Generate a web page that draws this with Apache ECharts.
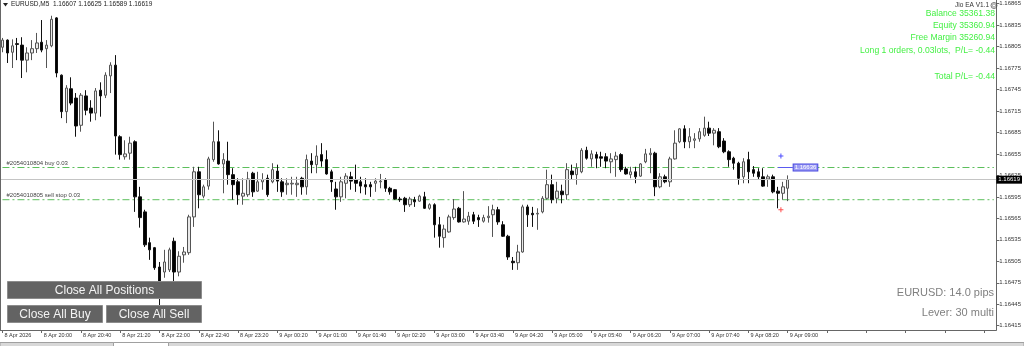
<!DOCTYPE html>
<html><head><meta charset="utf-8">
<script src="https://cdn.jsdelivr.net/npm/echarts@6/dist/echarts.min.js"></script>
<style>html,body{margin:0;padding:0;background:#fff;overflow:hidden}#c{width:1024px;height:346px}</style>
</head><body><div id="c"></div><script>
const symbolName = 'EURUSD,M5';
const firstLabel = '8 Apr 2026';
const categories = [
'8 Apr 19:20','8 Apr 19:25','8 Apr 19:30','8 Apr 19:35','8 Apr 19:40','8 Apr 19:45','8 Apr 19:50','8 Apr 19:55',
'8 Apr 20:00','8 Apr 20:05','8 Apr 20:10','8 Apr 20:15','8 Apr 20:20','8 Apr 20:25','8 Apr 20:30','8 Apr 20:35','8 Apr 20:40','8 Apr 20:45','8 Apr 20:50','8 Apr 20:55',
'8 Apr 21:00','8 Apr 21:05','8 Apr 21:10','8 Apr 21:15','8 Apr 21:20','8 Apr 21:25','8 Apr 21:30','8 Apr 21:35','8 Apr 21:40','8 Apr 21:45','8 Apr 21:50','8 Apr 21:55',
'8 Apr 22:00','8 Apr 22:05','8 Apr 22:10','8 Apr 22:15','8 Apr 22:20','8 Apr 22:25','8 Apr 22:30','8 Apr 22:35','8 Apr 22:40','8 Apr 22:45','8 Apr 22:50','8 Apr 22:55',
'8 Apr 23:00','8 Apr 23:05','8 Apr 23:10','8 Apr 23:15','8 Apr 23:20','8 Apr 23:25','8 Apr 23:30','8 Apr 23:35','8 Apr 23:40','8 Apr 23:45','8 Apr 23:50','8 Apr 23:55',
'9 Apr 00:20','9 Apr 00:25','9 Apr 00:30','9 Apr 00:35','9 Apr 00:40','9 Apr 00:45','9 Apr 00:50','9 Apr 00:55',
'9 Apr 01:00','9 Apr 01:05','9 Apr 01:10','9 Apr 01:15','9 Apr 01:20','9 Apr 01:25','9 Apr 01:30','9 Apr 01:35','9 Apr 01:40','9 Apr 01:45','9 Apr 01:50','9 Apr 01:55',
'9 Apr 02:00','9 Apr 02:05','9 Apr 02:10','9 Apr 02:15','9 Apr 02:20','9 Apr 02:25','9 Apr 02:30','9 Apr 02:35','9 Apr 02:40','9 Apr 02:45','9 Apr 02:50','9 Apr 02:55',
'9 Apr 03:00','9 Apr 03:05','9 Apr 03:10','9 Apr 03:15','9 Apr 03:20','9 Apr 03:25','9 Apr 03:30','9 Apr 03:35','9 Apr 03:40','9 Apr 03:45','9 Apr 03:50','9 Apr 03:55',
'9 Apr 04:00','9 Apr 04:05','9 Apr 04:10','9 Apr 04:15','9 Apr 04:20','9 Apr 04:25','9 Apr 04:30','9 Apr 04:35','9 Apr 04:40','9 Apr 04:45','9 Apr 04:50','9 Apr 04:55',
'9 Apr 05:00','9 Apr 05:05','9 Apr 05:10','9 Apr 05:15','9 Apr 05:20','9 Apr 05:25','9 Apr 05:30','9 Apr 05:35','9 Apr 05:40','9 Apr 05:45','9 Apr 05:50','9 Apr 05:55',
'9 Apr 06:00','9 Apr 06:05','9 Apr 06:10','9 Apr 06:15','9 Apr 06:20','9 Apr 06:25','9 Apr 06:30','9 Apr 06:35','9 Apr 06:40','9 Apr 06:45','9 Apr 06:50','9 Apr 06:55',
'9 Apr 07:00','9 Apr 07:05','9 Apr 07:10','9 Apr 07:15','9 Apr 07:20','9 Apr 07:25','9 Apr 07:30','9 Apr 07:35','9 Apr 07:40','9 Apr 07:45','9 Apr 07:50','9 Apr 07:55',
'9 Apr 08:00','9 Apr 08:05','9 Apr 08:10','9 Apr 08:15','9 Apr 08:20','9 Apr 08:25','9 Apr 08:30','9 Apr 08:35','9 Apr 08:40','9 Apr 08:45','9 Apr 08:50','9 Apr 08:55',
'9 Apr 09:00'];

const opens = [1.16804,1.16814,1.16797,1.16809,1.16807,1.16786,1.16796,1.16802,1.16811,1.16802,1.16806,1.16845,1.16765,1.16714,1.16746,1.16733,1.16695,1.16736,1.16719,1.16712,
1.16744,1.16737,1.16764,1.16779,1.16679,1.16651,1.16656,1.16672,1.16595,1.16574,1.16531,1.16524,1.16497,1.16490,1.16493,1.16533,1.16490,1.16514,1.16517,1.16567,
1.16630,1.16596,1.16610,1.16647,1.16672,1.16641,1.16645,1.16626,1.16616,1.16596,1.16598,1.16628,1.16603,1.16616,1.16621,1.16616,1.16631,1.16616,1.16612,1.16613,
1.16612,1.16621,1.16609,1.16645,1.16640,1.16654,1.16647,1.16630,1.16606,1.16595,1.16614,1.16623,1.16619,1.16616,1.16612,1.16612,1.16614,1.16616,1.16619,1.16607,
1.16605,1.16592,1.16593,1.16584,1.16591,1.16589,1.16595,1.16579,1.16584,1.16556,1.16538,1.16546,1.16566,1.16579,1.16560,1.16561,1.16570,1.16566,1.16561,1.16566,
1.16570,1.16577,1.16556,1.16540,1.16505,1.16503,1.16518,1.16581,1.16572,1.16571,1.16574,1.16593,1.16612,1.16593,1.16603,1.16598,1.16631,1.16626,1.16630,1.16660,
1.16648,1.16654,1.16651,1.16651,1.16644,1.16647,1.16654,1.16634,1.16626,1.16630,1.16624,1.16644,1.16654,1.16656,1.16609,1.16623,1.16616,1.16648,1.16672,1.16690,
1.16672,1.16674,1.16676,1.16681,1.16691,1.16684,1.16686,1.16673,1.16658,1.16649,1.16642,1.16623,1.16647,1.16633,1.16630,1.16623,1.16620,1.16623,1.16603,1.16600,
1.16607];
const closes = [1.16814,1.16796,1.16806,1.16808,1.16786,1.16796,1.16802,1.16810,1.16800,1.16807,1.16843,1.16768,1.16714,1.16747,1.16726,1.16694,1.16737,1.16716,1.16712,1.16743,
1.16736,1.16765,1.16779,1.16680,1.16654,1.16655,1.16670,1.16595,1.16566,1.16528,1.16521,1.16496,1.16472,1.16504,1.16521,1.16490,1.16512,1.16518,1.16567,1.16630,
1.16598,1.16609,1.16648,1.16672,1.16641,1.16647,1.16626,1.16612,1.16598,1.16600,1.16620,1.16602,1.16616,1.16619,1.16598,1.16633,1.16617,1.16602,1.16614,1.16614,
1.16614,1.16609,1.16647,1.16640,1.16652,1.16645,1.16627,1.16616,1.16595,1.16616,1.16624,1.16617,1.16614,1.16610,1.16609,1.16609,1.16617,1.16617,1.16607,1.16602,
1.16592,1.16591,1.16584,1.16592,1.16588,1.16596,1.16579,1.16584,1.16556,1.16540,1.16550,1.16567,1.16578,1.16560,1.16564,1.16568,1.16561,1.16563,1.16566,1.16568,
1.16577,1.16560,1.16540,1.16511,1.16503,1.16518,1.16581,1.16570,1.16570,1.16572,1.16593,1.16612,1.16591,1.16603,1.16598,1.16633,1.16626,1.16635,1.16660,1.16649,
1.16655,1.16649,1.16649,1.16645,1.16648,1.16652,1.16633,1.16627,1.16630,1.16623,1.16641,1.16655,1.16656,1.16609,1.16623,1.16616,1.16648,1.16670,1.16690,1.16672,
1.16679,1.16676,1.16686,1.16691,1.16684,1.16688,1.16665,1.16658,1.16647,1.16642,1.16621,1.16644,1.16630,1.16628,1.16623,1.16610,1.16623,1.16602,1.16600,1.16609,
1.16619];
const lows = [1.16797,1.16782,1.16775,1.16786,1.16761,1.16769,1.16786,1.16796,1.16797,1.16775,1.16804,1.16762,1.16705,1.16698,1.16723,1.16679,1.16686,1.16709,1.16700,1.16702,
1.16707,1.16733,1.16740,1.16654,1.16647,1.16647,1.16647,1.16574,1.16552,1.16525,1.16507,1.16493,1.16441,1.16482,1.16490,1.16477,1.16484,1.16503,1.16514,1.16553,
1.16579,1.16593,1.16605,1.16644,1.16640,1.16600,1.16612,1.16591,1.16584,1.16584,1.16595,1.16595,1.16602,1.16605,1.16595,1.16614,1.16602,1.16595,1.16598,1.16598,
1.16595,1.16598,1.16598,1.16628,1.16628,1.16637,1.16626,1.16602,1.16577,1.16588,1.16593,1.16605,1.16602,1.16600,1.16598,1.16595,1.16602,1.16607,1.16602,1.16598,
1.16591,1.16588,1.16574,1.16581,1.16581,1.16588,1.16578,1.16577,1.16538,1.16524,1.16524,1.16545,1.16563,1.16559,1.16559,1.16556,1.16557,1.16553,1.16559,1.16559,
1.16539,1.16556,1.16539,1.16507,1.16493,1.16493,1.16517,1.16553,1.16553,1.16549,1.16572,1.16591,1.16586,1.16586,1.16586,1.16591,1.16619,1.16612,1.16628,1.16647,
1.16637,1.16635,1.16637,1.16635,1.16628,1.16623,1.16630,1.16626,1.16621,1.16614,1.16623,1.16642,1.16628,1.16596,1.16607,1.16614,1.16609,1.16647,1.16670,1.16663,
1.16663,1.16663,1.16672,1.16679,1.16680,1.16667,1.16663,1.16656,1.16637,1.16633,1.16612,1.16614,1.16614,1.16623,1.16619,1.16609,1.16609,1.16600,1.16579,1.16591,
1.16589];
const highs = [1.16817,1.16815,1.16815,1.16817,1.16818,1.16804,1.16814,1.16824,1.16842,1.16814,1.16848,1.16846,1.16766,1.16751,1.16762,1.16740,1.16740,1.16744,1.16730,1.16747,
1.16755,1.16769,1.16783,1.16793,1.16681,1.16674,1.16679,1.16674,1.16609,1.16577,1.16538,1.16525,1.16504,1.16521,1.16524,1.16538,1.16519,1.16525,1.16570,1.16637,
1.16637,1.16612,1.16651,1.16700,1.16688,1.16656,1.16672,1.16635,1.16621,1.16621,1.16630,1.16630,1.16630,1.16628,1.16626,1.16642,1.16640,1.16621,1.16621,1.16623,
1.16623,1.16623,1.16654,1.16656,1.16667,1.16670,1.16660,1.16633,1.16616,1.16623,1.16628,1.16630,1.16640,1.16623,1.16621,1.16616,1.16621,1.16627,1.16621,1.16609,
1.16606,1.16595,1.16595,1.16595,1.16595,1.16598,1.16602,1.16586,1.16586,1.16567,1.16556,1.16570,1.16592,1.16581,1.16603,1.16574,1.16574,1.16570,1.16570,1.16582,
1.16584,1.16581,1.16561,1.16542,1.16511,1.16528,1.16584,1.16584,1.16581,1.16579,1.16596,1.16633,1.16626,1.16616,1.16612,1.16642,1.16640,1.16642,1.16663,1.16665,
1.16660,1.16658,1.16658,1.16656,1.16656,1.16658,1.16656,1.16637,1.16637,1.16637,1.16642,1.16662,1.16663,1.16658,1.16628,1.16626,1.16651,1.16688,1.16691,1.16695,
1.16691,1.16684,1.16691,1.16707,1.16700,1.16691,1.16691,1.16677,1.16660,1.16651,1.16644,1.16649,1.16658,1.16638,1.16635,1.16635,1.16626,1.16626,1.16609,1.16616,
1.16625];

const priceTicks = [1.16415,1.16445,1.16475,1.16505,1.16535,1.16565,1.16595,1.16625,1.16655,1.16685,1.16715,1.16745,1.16775,1.16805,1.16835,1.16865];
const yMin = 1.16409, yMax = 1.16870;
const bidPrice = 1.16619;
const buyLevel = 1.16636;
const sellStopLevel = 1.16591;
const buyArrowPrice = 1.16652;
const sellArrowPrice = 1.16577;
const buyLabel = '#2054010804 buy 0.03';
const sellStopLabel = '#2054010805 sell stop 0.03';
const eaName = 'Jio EA V1.1';
const infoLines = ['Balance 35361.38','Equity 35360.94','Free Margin 35260.94','Long 1 orders, 0.03lots,  P/L= -0.44','','Total P/L= -0.44'];
const spreadText = 'EURUSD: 14.0 pips';
const leverText = 'Lever: 30 multi';
const buttonLabels = ['Close All Positions','Close All Buy','Close All Sell'];

const ff = '"Liberation Sans", Arial, sans-serif';
const last = opens.length - 1;
const PAD = 203;
const axisCats = categories.concat(new Array(PAD - categories.length).fill(''));
const candleData = opens.map((o, i) => [o, closes[i], lows[i], highs[i]]);
const headerText = symbolName + '  ' + [opens[last], highs[last], lows[last], closes[last]].map(v => v.toFixed(5)).join(' ');

const graphics = [
  {type:'line', shape:{x1:0.5,y1:0,x2:0.5,y2:330}, style:{stroke:'#666',lineWidth:1}, z:50},
  {type:'polygon', shape:{points:[[3,3],[8,3],[5.5,6.5]]}, style:{fill:'#222'}, z:50},
  {type:'text', style:{x:11,y:4.5,text:headerText,font:'6.5px '+ff,fill:'#222',verticalAlign:'middle',textVerticalAlign:'middle'}, z:50},
  {type:'text', style:{x:989,y:5.5,text:eaName,font:'6.5px '+ff,fill:'#333',align:'right',textAlign:'right',verticalAlign:'middle',textVerticalAlign:'middle'}, z:50},
  {type:'circle', shape:{cx:994,cy:5.5,r:3}, style:{fill:'none',stroke:'#555',lineWidth:0.8}, z:50},
  {type:'circle', shape:{cx:994,cy:5.5,r:1.6}, style:{fill:'none',stroke:'#555',lineWidth:0.6}, z:50},
  {type:'text', style:{x:994,y:293,text:spreadText,font:'11px '+ff,fill:'#808080',align:'right',textAlign:'right',verticalAlign:'middle',textVerticalAlign:'middle'}, z:50},
  {type:'text', style:{x:994,y:313,text:leverText,font:'11px '+ff,fill:'#808080',align:'right',textAlign:'right',verticalAlign:'middle',textVerticalAlign:'middle'}, z:50},
  {type:'rect', shape:{x:0,y:342.5,width:1024,height:4}, style:{fill:'#d8d8d8',stroke:'#a0a0a0',lineWidth:1}, z:50},
  {type:'rect', shape:{x:113.5,y:342.5,width:55,height:4}, style:{fill:'#ffffff',stroke:'#a0a0a0',lineWidth:1}, z:51}
];
const infoY = [14, 26, 38, 51, 64, 77];
infoLines.forEach((t, i) => {
  if (!t) return;
  graphics.push({type:'text', style:{x:995,y:infoY[i],text:t,font:'8.6px '+ff,fill:'#45f045',align:'right',textAlign:'right',verticalAlign:'middle',textVerticalAlign:'middle'}, z:50});
});
const btns = [[7.5,281.5,194,17],[7.5,305.5,95,17],[106.5,305.5,95,17]];
btns.forEach((b, i) => {
  graphics.push({type:'rect', shape:{x:b[0],y:b[1],width:b[2],height:b[3]}, style:{fill:'#636363',stroke:'#8c8c8c',lineWidth:1}, z:60});
  graphics.push({type:'text', style:{x:b[0]+b[2]/2,y:b[1]+b[3]/2+0.5,text:buttonLabels[i],font:'12px '+ff,fill:'#f4f4f4',align:'center',textAlign:'center',verticalAlign:'middle',textVerticalAlign:'middle'}, z:61});
});

const plusPath = 'path://M2,0h1v2h2v1h-2v2h-1v-2h-2v-1h2z';
const blueLabel = {show:true, position:'end', formatter:buyLevel.toFixed(5), backgroundColor:'#9c9cf4', borderColor:'#4a4ae0', borderWidth:1, color:'#fff', fontSize:6, fontFamily:ff, padding:[0,1,0,1], distance:1};
const orderLineLabel = {show:true, position:[4,-7.5], color:'#444', fontSize:6, fontFamily:ff};

function orderLine(level, text) {
  return {
    type:'line', silent:true, z:2, symbol:'circle', symbolSize:0, showSymbol:true, animation:false,
    lineStyle:{color:'#5cbf5c', width:1, type:[7,3,2,3]},
    itemStyle:{color:'#5cbf5c'},
    label:{show:false},
    data:[{value:[0, level], label:Object.assign({formatter:text}, orderLineLabel)}, [PAD - 1, level]]
  };
}

const chart = echarts.init(document.getElementById('c'), null, {renderer:'canvas'});
chart.setOption({
  animation:false,
  backgroundColor:'#ffffff',
  grid:{left:-1, top:0, width:1000, height:330, containLabel:false, show:false},
  xAxis:{
    type:'category', data:axisCats, boundaryGap:true,
    axisLine:{show:true, lineStyle:{color:'#666', width:1}},
    axisTick:{show:true, interval:7, alignWithLabel:true, length:3, lineStyle:{color:'#666'}},
    axisLabel:{interval:7, align:'left', fontSize:5.5, fontFamily:ff, color:'#333', margin:2, padding:[0,0,0,2],
      formatter:(v, i) => i === 0 ? firstLabel : v},
    splitLine:{show:false}
  },
  yAxis:{
    type:'value', position:'right', min:yMin, max:yMax, scale:true,
    splitLine:{show:false},
    axisLine:{show:true, lineStyle:{color:'#666', width:1}},
    axisTick:{show:true, length:3, lineStyle:{color:'#666'}, customValues:priceTicks},
    axisLabel:{customValues:priceTicks, formatter:v => Number(v).toFixed(5), fontSize:6, fontFamily:ff, color:'#333', margin:3}
  },
  series:[
    {
      type:'scatter', data:[], silent:true, z:1,
      markLine:{
        silent:true, symbol:['none','none'], animation:false, precision:5,
        lineStyle:{color:'#c4c4c4', type:'solid', width:1},
        data:[{yAxis:bidPrice, label:{show:true, position:'end', formatter:bidPrice.toFixed(5), backgroundColor:'#000', color:'#fff', fontSize:6, fontFamily:ff, padding:[1,2,1,2], distance:0}}]
      }
    },
    orderLine(buyLevel, buyLabel),
    orderLine(sellStopLevel, sellStopLabel),
    {
      type:'candlestick', data:candleData, barWidth:3, z:3,
      itemStyle:{color:'#e9e9e9', color0:'#000000', borderColor:'#555555', borderColor0:'#111111', borderWidth:1}
    },
    {type:'scatter', data:[[158, buyArrowPrice]], symbol:plusPath, symbolSize:5, symbolOffset:[3,0], itemStyle:{color:'#2020ff'}, silent:true, z:4,
      markLine:{
        silent:true, symbol:['none','none'], animation:false, precision:5,
        lineStyle:{color:'#5a5af0', type:'solid', width:1},
        label:blueLabel,
        data:[[{coord:[158, buyLevel], label:blueLabel}, {coord:[161, buyLevel], label:blueLabel}]]
      }
    },
    {type:'scatter', data:[[158, sellArrowPrice]], symbol:plusPath, symbolSize:5, symbolOffset:[3,0], itemStyle:{color:'#ff2020'}, silent:true, z:4}
  ],
  graphic:graphics
});
</script></body></html>
